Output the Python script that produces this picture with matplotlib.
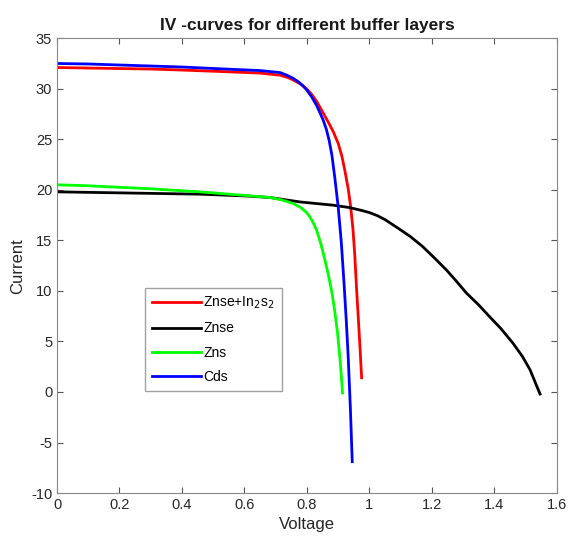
import numpy as np
import matplotlib.pyplot as plt

plt.rcParams['font.family'] = ['Liberation Sans', 'DejaVu Sans']
plt.rcParams['axes.unicode_minus'] = False

# Znse+In2S2 (red)
v_red = [0, 0.1, 0.2, 0.3, 0.4, 0.554, 0.65, 0.714, 0.74, 0.76, 0.78, 0.799, 0.815, 0.831,
         0.852, 0.87, 0.885, 0.9, 0.912, 0.922, 0.932, 0.94, 0.947, 0.953, 0.959, 0.964,
         0.97, 0.975]
i_red = [32.1, 32.05, 32.0, 31.95, 31.85, 31.67, 31.55, 31.34, 31.1, 30.8, 30.45, 30.0, 29.45, 28.75,
         27.6, 26.6, 25.7, 24.6, 23.3, 21.8, 20.1, 18.3, 16.2, 13.6, 10.1, 7.5,
         4.3, 1.4]

# Znse (black)
v_blk = [0, 0.1, 0.2, 0.3, 0.457, 0.6, 0.682, 0.778, 0.884, 0.935, 0.97, 1.0, 1.025, 1.05,
         1.087, 1.13, 1.17, 1.21, 1.247, 1.28, 1.31, 1.35, 1.386, 1.42, 1.46, 1.49, 1.514,
         1.53, 1.546]
i_blk = [19.8, 19.75, 19.7, 19.65, 19.57, 19.4, 19.24, 18.8, 18.48, 18.25, 18.0, 17.75, 17.45, 17.05,
         16.3, 15.4, 14.4, 13.2, 12.05, 10.9, 9.8, 8.6, 7.4, 6.3, 4.8, 3.5, 2.2,
         1.0, -0.2]

# Zns (green)
v_grn = [0, 0.1, 0.2, 0.3, 0.457, 0.6, 0.682, 0.72, 0.756, 0.78, 0.799, 0.81, 0.82, 0.831,
         0.845, 0.858, 0.869, 0.879, 0.889, 0.898, 0.906, 0.914]
i_grn = [20.5, 20.4, 20.25, 20.1, 19.8, 19.45, 19.24, 19.0, 18.65, 18.25, 17.75, 17.3, 16.75, 16.0,
         14.6, 13.0, 11.5, 10.0, 8.0, 5.8, 3.2, -0.1]

# Cds (blue)
v_blu = [0, 0.1, 0.2, 0.3, 0.4, 0.554, 0.65, 0.714, 0.735, 0.755, 0.772, 0.787, 0.8, 0.815,
         0.831, 0.842, 0.852, 0.862, 0.871, 0.88, 0.89, 0.9, 0.91, 0.919, 0.926, 0.932,
         0.939, 0.945]
i_blu = [32.5, 32.45, 32.35, 32.25, 32.15, 31.93, 31.8, 31.6, 31.35, 31.05, 30.7, 30.3, 29.85, 29.2,
         28.35, 27.6, 26.9, 26.0, 24.9, 23.4, 21.0, 18.3, 14.8, 10.6, 7.0, 3.5,
         -1.6, -6.9]

fig = plt.figure(figsize=(5.7, 5.46), dpi=100)
ax = fig.add_axes([0.1, 0.097, 0.877, 0.833])

ax.plot(v_red, i_red, color='#ff0000', lw=2, label='Znse+In$_2$s$_2$')
ax.plot(v_blk, i_blk, color='black', lw=2, label='Znse')
ax.plot(v_grn, i_grn, color='#00ff00', lw=2, label='Zns')
ax.plot(v_blu, i_blu, color='#0000ff', lw=2, label='Cds')

ax.set_xlim(0, 1.6)
ax.set_ylim(-10, 35)
ax.set_xticks(np.arange(0, 1.61, 0.2))
ax.set_xticklabels(['0', '0.2', '0.4', '0.6', '0.8', '1', '1.2', '1.4', '1.6'])
ax.set_yticks(np.arange(-10, 36, 5))
ax.tick_params(direction='in', top=True, right=True, labelsize=10.5,
               color='#555555', labelcolor='#262626', length=4)
for s in ax.spines.values():
    s.set_color('#888888')

ax.set_title('IV -curves for different buffer layers', fontsize=12.5, fontweight='bold',
             color='#1a1a1a')
ax.set_xlabel('Voltage', fontsize=12, color='#262626')
ax.set_ylabel('Current', fontsize=12, color='#262626')

leg = ax.legend(loc='lower left', bbox_to_anchor=(0.176, 0.224), borderaxespad=0,
                fontsize=10, frameon=True, fancybox=False, edgecolor='#888888',
                handlelength=3.5, handletextpad=0.2, borderpad=0.5, labelspacing=0.75)
leg.get_frame().set_linewidth(1)

fig.savefig('out.png', dpi=100)
